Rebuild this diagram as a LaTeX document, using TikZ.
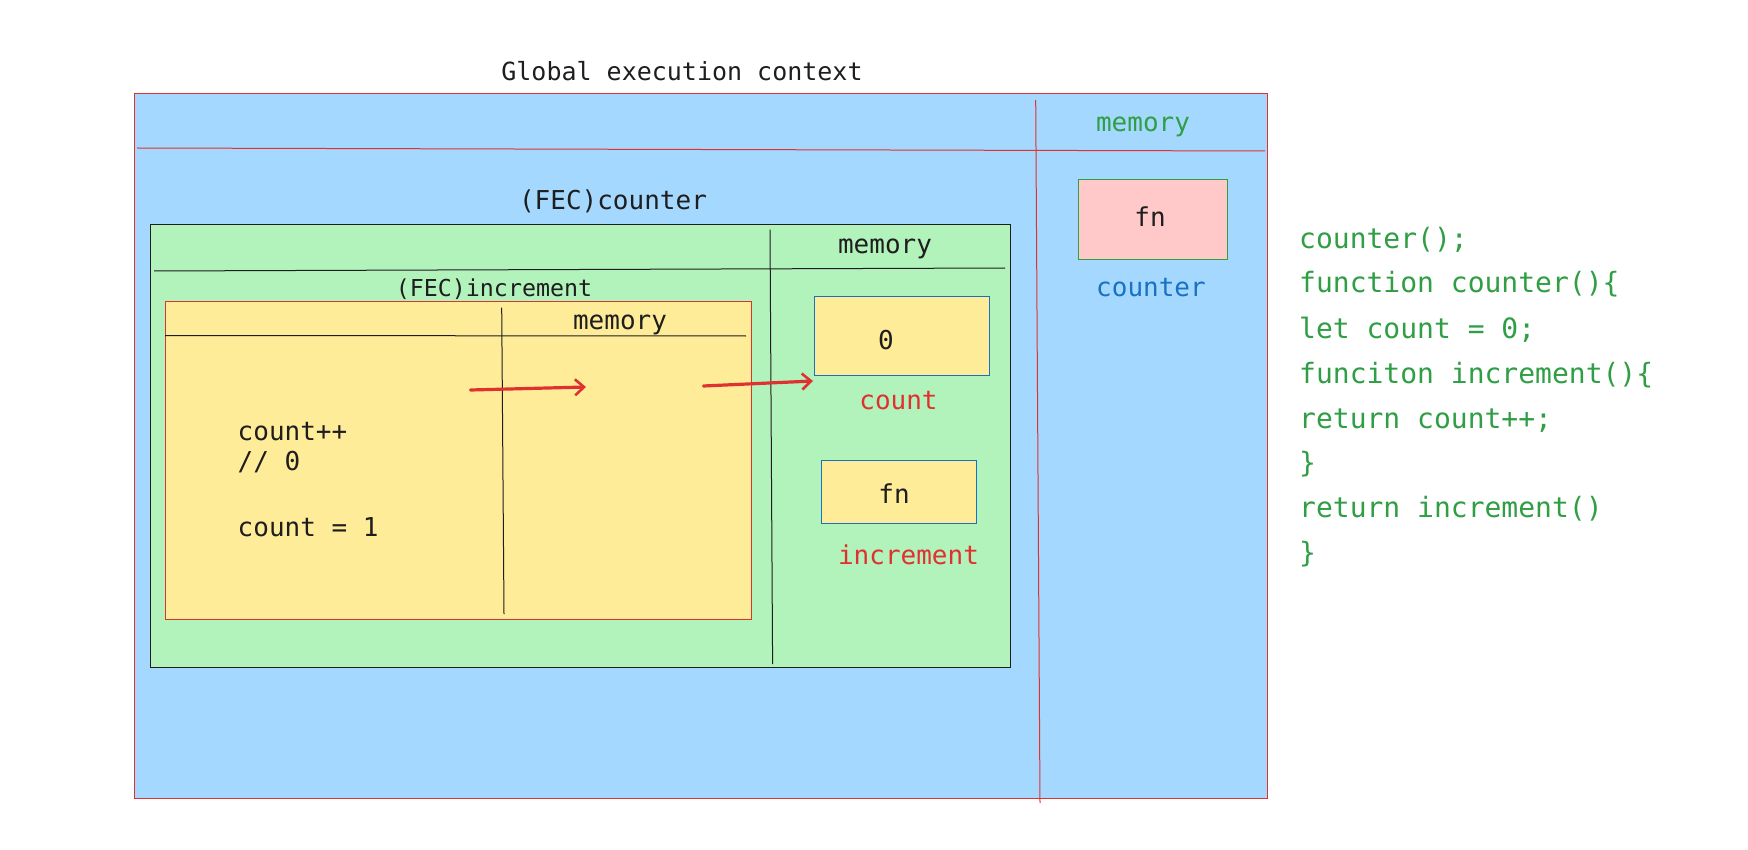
\documentclass[tikz,border=0pt]{standalone}
\usepackage{fontspec}
\setmonofont{DejaVu Sans Mono}
\usetikzlibrary{arrows.meta}
\definecolor{bluefill}{HTML}{A5D8FF}
\definecolor{greenfill}{HTML}{B2F2BB}
\definecolor{yellowfill}{HTML}{FFEC99}
\definecolor{pinkfill}{HTML}{FFC9C9}
\definecolor{redline}{HTML}{E03131}
\definecolor{greentext}{HTML}{2F9E44}
\definecolor{bluetext}{HTML}{1971C2}
\definecolor{ink}{HTML}{1E1E1E}
\begin{document}
\begin{tikzpicture}[x=1pt,y=-1pt,
  box/.style={rectangle, inner sep=0pt, line width=1pt},
  lbl/.style={font=\ttfamily\fontsize{26}{30}\selectfont, inner sep=0pt, text height=22pt, text depth=2pt, text=ink},
  code/.style={font=\ttfamily\fontsize{28}{32}\selectfont, inner sep=0pt, text height=23pt, text depth=2pt, text=greentext, anchor=west},
  divider/.style={line width=1pt},
  redarrow/.style={draw=redline, line width=3.2pt, line cap=round, -{Straight Barb[length=9pt,width=16pt,line width=2.6pt]}}
]
\useasboundingbox (0,0) rectangle (1748,850);

% global execution context
\node[box, draw=redline, fill=bluefill, minimum width=1133pt, minimum height=704pt] (gec) at (700.5,446) {};
\draw[divider, draw=redline] (137,148) -- (1265,151);
\draw[divider, draw=redline] (1035.7,100) -- (1040,803);
\node[lbl] (gectitle) at (682,71) {\fontsize{25}{30}\selectfont Global execution context};
\node[lbl, text=greentext] (gmem) at (1143,122) {memory};
\node[box, draw=greentext, fill=pinkfill, minimum width=149pt, minimum height=80pt] (gfn) at (1152.5,220) {};
\node[lbl] (gfntxt) at (1150,217) {fn};
\node[lbl, text=bluetext] (gcounter) at (1151,287) {counter};

% FEC counter
\node[lbl] (fectitle) at (613,200) {(FEC)counter};
\node[box, draw=ink, fill=greenfill, minimum width=859.5pt, minimum height=442pt] (fec) at (580.25,446) {};
\draw[divider, draw=ink] (154,271) -- (1005,268);
\draw[divider, draw=ink] (770,229.6) -- (772.6,664);
\node[lbl] (fecmem) at (885,244) {memory};
\node[box, draw=bluetext, fill=yellowfill, minimum width=175pt, minimum height=79.5pt] (countbox) at (901.5,336) {};
\node[lbl] (zero) at (886,339) {0};
\node[lbl, text=redline] (countlbl) at (898.5,399) {count};
\node[box, draw=bluetext, fill=yellowfill, minimum width=155pt, minimum height=63.6pt] (incbox) at (899,492) {};
\node[lbl] (incfn) at (894,493) {fn};
\node[lbl, text=redline] (inclbl) at (908.5,554) {increment};

% FEC increment
\node[lbl] (inctitle) at (494,287) {\fontsize{23.3}{28}\selectfont (FEC)increment};
\node[box, draw=redline, fill=yellowfill, minimum width=586pt, minimum height=317pt] (inc) at (458,460.5) {};
\draw[divider, draw=ink] (165,335.5) -- (746,336);
\draw[divider, draw=ink] (501.7,307.7) -- (504,614);
\node[lbl] (incmem) at (620,320) {memory};
\node[lbl, anchor=west] (cpp) at (237.5,430) {count++};
\node[lbl, anchor=west] (cmt) at (237.5,460) {// 0};
\node[lbl, anchor=west] (ceq) at (237.5,526) {count = 1};

% arrows
\coordinate (a1s) at (470.5,390);
\coordinate (a1e) at (586,387);
\coordinate (a2s) at (703.4,386);
\coordinate (a2e) at (813,381);
\draw[redarrow] (a1s) -- (a1e);
\draw[redarrow] (a2s) -- (a2e);

% code
\node[code] (l1) at (1299,238) {counter();};
\node[code] (l2) at (1299,282.5) {function counter()\{};
\node[code] (l3) at (1299,327.5) {let count = 0;};
\node[code] (l4) at (1299,372.5) {funciton increment()\{};
\node[code] (l5) at (1299,417.5) {return count++;};
\node[code] (l6) at (1299,462) {\}};
\node[code] (l7) at (1299,507) {return increment()};
\node[code] (l8) at (1299,552) {\}};
\end{tikzpicture}
\end{document}
